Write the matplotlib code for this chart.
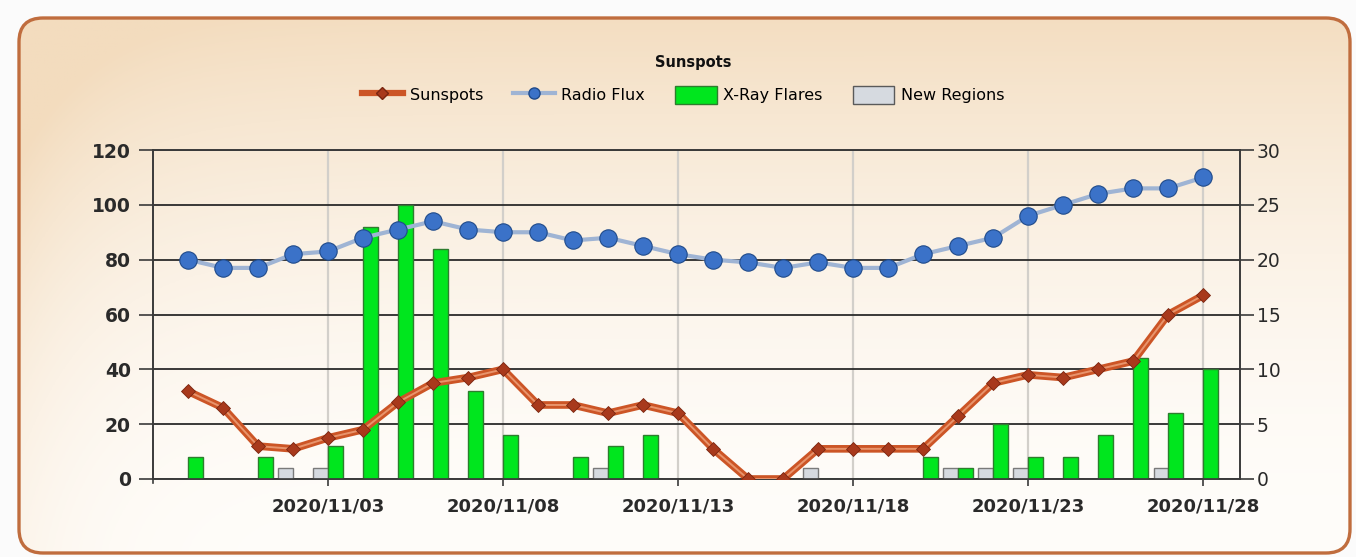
import numpy as np
import pandas as pd
import matplotlib
matplotlib.use("Agg")
import matplotlib.pyplot as plt
import matplotlib.dates as mdates
from matplotlib.patches import FancyBboxPatch, Patch
from matplotlib.lines import Line2D

# daily values, 2020/10/30 .. 2020/11/28
dates = pd.date_range("2020-10-30", "2020-11-28", freq="D")
sunspots = [32, 26, 12, 11, 15, 18, 28, 35, 37, 40,
            27, 27, 24, 27, 24, 11, 0, 0, 11, 11,
            11, 11, 23, 35, 38, 37, 40, 43, 60, 67]
radio_flux = [80, 77, 77, 82, 83, 88, 91, 94, 91, 90,
              90, 87, 88, 85, 82, 80, 79, 77, 79, 77,
              77, 82, 85, 88, 96, 100, 104, 106, 106, 110]
xray_flares = [2, 0, 2, 0, 3, 23, 25, 21, 8, 4,
               0, 2, 3, 4, 0, 0, 0, 0, 0, 0,
               0, 2, 1, 5, 2, 2, 4, 11, 6, 10]
new_regions = [0, 0, 0, 1, 1, 0, 0, 0, 0, 0,
               0, 0, 1, 0, 0, 0, 0, 0, 1, 0,
               0, 0, 1, 1, 1, 0, 0, 0, 1, 0]
tick_dates = ["2020-11-03", "2020-11-08", "2020-11-13",
              "2020-11-18", "2020-11-23", "2020-11-28"]

W, H = 1356, 557
fig = plt.figure(figsize=(W / 100, H / 100), dpi=100)
fig.patch.set_facecolor("#fbfbfb")

# rounded panel with a peach -> white gradient
bg = fig.add_axes([0, 0, 1, 1])
bg.set_xlim(0, W)
bg.set_ylim(H, 0)
bg.axis("off")
xx, yy = np.meshgrid(np.linspace(0, 1, 400), np.linspace(0, 1, 200))
amt = np.clip(0.95 * (1 - yy) ** 1.8 + 0.5 * np.exp(-xx / 0.06) * (1 - 0.5 * yy), 0, 1)
peach = np.array([243, 220, 190]) / 255
white = np.array([255, 253, 250]) / 255
img = white + (peach - white) * amt[..., None]
x0, y0, x1, y1 = 19, 18, 1350, 553
box = FancyBboxPatch((x0, y0), x1 - x0, y1 - y0,
                     boxstyle="round,pad=0,rounding_size=24",
                     facecolor="none", edgecolor="#c06d3e", linewidth=2.4)
bg.add_patch(box)
im = bg.imshow(img, extent=[x0, x1, y1, y0], aspect="auto", zorder=0)
im.set_clip_path(box)

ax = fig.add_axes([153 / W, 1 - 479 / H, (1240 - 153) / W, (479 - 150) / H])
ax2 = ax.twinx()
ax.set_zorder(ax2.get_zorder() + 1)
ax.patch.set_visible(False)
ax2.patch.set_visible(False)

xnum = mdates.date2num(dates)
bw = 0.42
ax2.bar(xnum - bw / 2, new_regions, width=bw, color="#d6dae0",
        edgecolor="#7a7a7a", linewidth=1, zorder=3)
ax2.bar(xnum + bw / 2, xray_flares, width=bw, color="#00e61e",
        edgecolor="#2e7d2e", linewidth=1, zorder=3)

ax.plot(dates, radio_flux, color="#9fb4d4", lw=3, zorder=4)
ax.plot(dates, radio_flux, ls="none", marker="o", ms=12.5,
        mfc="#3b72c8", mec="#1f4a8a", mew=0.8, zorder=5)
ax.plot(dates, sunspots, color="#cc5526", lw=5.5, zorder=4,
        solid_joinstyle="round")
ax.plot(dates, sunspots, color="#e8946c", lw=1.4, zorder=4,
        solid_joinstyle="round")
ax.plot(dates, sunspots, ls="none", marker="D", ms=7,
        mfc="#a8391c", mec="#7a2510", mew=0.6, zorder=5)

ax.set_ylim(0, 120)
ax.set_yticks(range(0, 121, 20))
ax2.set_ylim(0, 30)
ax2.set_yticks(range(0, 31, 5))
ax.set_xlim(xnum[0] - 1, xnum[-1] + 1.05)

ticks = mdates.date2num(pd.to_datetime(tick_dates))
ax.set_xticks(ticks)
ax.set_xticklabels(pd.to_datetime(tick_dates).strftime("%Y/%m/%d"))

# grids on the back axes so they sit under the bars
ax2.grid(axis="y", color="#2a2a2a", lw=1.3, zorder=1)
for t in ticks:
    ax2.axvline(t, color="#d2cfca", lw=1.6, zorder=0.5)
ax2.set_axisbelow(True)

for a in (ax, ax2):
    for s in a.spines.values():
        s.set_color("#3a3a3a")
        s.set_linewidth(1.2)
ax.spines["left"].set_bounds(-1.5, 120)

ax.tick_params(axis="y", direction="out", length=10, width=1.2, color="#3a3a3a",
               labelsize=13.5, labelcolor="#2a2a2a", pad=6)
ax2.tick_params(axis="y", direction="out", length=10, width=1.2, color="#3a3a3a",
                labelsize=13.5, labelcolor="#2a2a2a", pad=2)
ax.tick_params(axis="x", direction="out", length=5, width=1.2, color="#3a3a3a",
               labelsize=13, labelcolor="#2a2a2a", pad=8)
for lab in ax.get_yticklabels() + ax.get_xticklabels():
    lab.set_fontweight("bold")
for lab in ax2.get_yticklabels():
    lab.set_fontweight("normal")

fig.text(693 / W, 1 - 62 / H, "Sunspots", ha="center", va="center",
         fontsize=10.5, fontweight="bold", color="#111111")

handles = [
    Line2D([], [], color="#cc5526", lw=4.5, marker="D", ms=6,
           mfc="#a8391c", mec="#7a2510"),
    Line2D([], [], color="#9fb4d4", lw=3, marker="o", ms=8,
           mfc="#3b72c8", mec="#1f4a8a"),
    Patch(facecolor="#00e61e", edgecolor="#2e7d2e"),
    Patch(facecolor="#d6dae0", edgecolor="#5a5a5a"),
]
labels = ["Sunspots", "Radio Flux", "X-Ray Flares", "New Regions"]
fig.legend(handles, labels, loc="center", bbox_to_anchor=(683 / W, 1 - 95 / H),
           ncol=4, frameon=False, fontsize=11.5, handlelength=2.6,
           handleheight=1.3, columnspacing=1.9, handletextpad=0.4)

fig.savefig("out.png", dpi=100, facecolor=fig.get_facecolor())
